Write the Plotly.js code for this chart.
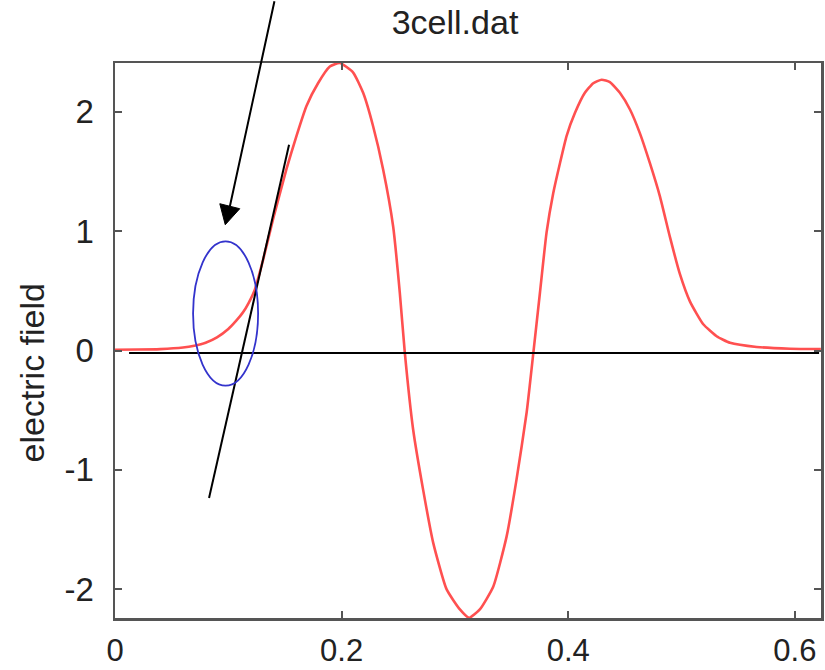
<!DOCTYPE html>
<html>
<head>
<meta charset="utf-8">
<script src="https://cdn.plot.ly/plotly-3.0.1.min.js"></script>
<style>html,body{margin:0;padding:0;background:#fff;}#chart{width:825px;height:670px;}</style>
</head>
<body>
<div id="chart"></div>
<script>
// Electric field profile along the 3-cell structure
const positions = [0, 0.02, 0.04, 0.06, 0.07, 0.08, 0.09, 0.1, 0.107, 0.113, 0.118, 0.1234, 0.1307, 0.1395, 0.1513, 0.1602, 0.169, 0.1792, 0.1896, 0.1984, 0.2102, 0.219, 0.2278, 0.2366, 0.2455, 0.2514, 0.2558, 0.2631, 0.272, 0.2808, 0.2926, 0.3044, 0.3126, 0.322, 0.3338, 0.3456, 0.3544, 0.3633, 0.3691, 0.375, 0.3809, 0.3868, 0.3927, 0.3986, 0.4059, 0.4147, 0.4221, 0.4295, 0.4368, 0.4456, 0.4545, 0.4633, 0.4721, 0.481, 0.4898, 0.4986, 0.5075, 0.5192, 0.531, 0.5428, 0.5663, 0.5958, 0.623];
const field = [0.007, 0.008, 0.012, 0.025, 0.04, 0.065, 0.11, 0.18, 0.25, 0.32, 0.40, 0.51, 0.76, 1.10, 1.52, 1.80, 2.05, 2.24, 2.38, 2.41, 2.33, 2.16, 1.88, 1.52, 1.04, 0.48, -0.02, -0.66, -1.17, -1.61, -2.00, -2.17, -2.24, -2.17, -1.98, -1.56, -1.08, -0.52, -0.03, 0.48, 0.99, 1.32, 1.57, 1.80, 1.99, 2.16, 2.24, 2.27, 2.25, 2.16, 2.02, 1.82, 1.57, 1.29, 0.95, 0.64, 0.41, 0.22, 0.12, 0.065, 0.03, 0.015, 0.013];

const xTicks = [0, 0.2, 0.4, 0.6];
const xTickLabels = ['0', '0.2', '0.4', '0.6'];
const yTicks = [-2, -1, 0, 1, 2];
const yTickLabels = ['-2', '-1', '0', '1', '2'];

// Hand-drawn overlay marks (data coordinates)
const baselineX = [0.0124, 0.6214];
const baselineY = [-0.021, -0.021];
const slantX = [0.0830, 0.1536];
const slantY = [-1.236, 1.725];
const ellipseX = [0.0689, 0.1263];
const ellipseY = [-0.295, 0.9145];
const arrowX = [0.141, 0.1013];   // tail, end of shaft
const arrowY = [2.94, 1.205];
const headX = [0.0973, 0.0925, 0.1101];
const headY = [1.0545, 1.2305, 1.1886];

const FONT = 'Liberation Sans, Arial, Helvetica, sans-serif';
const axisColor = '#555555';
const textColor = '#222222';

const trace = {
  x: positions, y: field, type: 'scatter', mode: 'lines',
  line: {color: 'rgb(255,80,80)', width: 2.6, shape: 'spline', smoothing: 0.5},
  hoverinfo: 'skip', showlegend: false
};

const headPath = 'M' + headX[0] + ',' + headY[0] + ' L' + headX[1] + ',' + headY[1] + ' L' + headX[2] + ',' + headY[2] + ' Z';

const layout = {
  width: 825, height: 670,
  margin: {l: 115, r: 4, t: 63, b: 52},
  paper_bgcolor: '#ffffff', plot_bgcolor: '#ffffff',
  font: {family: FONT, color: textColor, size: 32},
  title: {text: '3cell.dat', x: 0.4816, xref: 'paper', xanchor: 'center', y: 0.967, yanchor: 'middle', font: {family: FONT, size: 34, color: textColor}},
  xaxis: {
    range: [0, 0.6231], tickvals: xTicks, ticktext: xTickLabels,
    showline: true, mirror: 'ticks', linecolor: axisColor, linewidth: 2.5,
    ticks: 'inside', ticklen: 7, tickwidth: 2, tickcolor: axisColor,
    showgrid: false, zeroline: false, tickfont: {size: 31, color: textColor},
    ticklabelstandoff: 3
  },
  yaxis: {
    range: [-2.242, 2.41], tickvals: yTicks, ticktext: yTickLabels,
    showline: true, mirror: 'ticks', linecolor: axisColor, linewidth: 2.5,
    ticks: 'inside', ticklen: 7, tickwidth: 2, tickcolor: axisColor,
    showgrid: false, zeroline: false, tickfont: {size: 33, color: textColor},
    ticklabelstandoff: 12
  },
  annotations: [
    {
      text: 'electric field', xref: 'paper', yref: 'paper', x: -0.117, y: 0.443,
      textangle: -90, showarrow: false, xanchor: 'center', yanchor: 'middle',
      font: {family: FONT, size: 34, color: textColor}
    },
    {
      text: '', xref: 'x', yref: 'y', x: arrowX[1], y: arrowY[1],
      axref: 'x', ayref: 'y', ax: arrowX[0], ay: arrowY[0],
      showarrow: true, arrowhead: 0, arrowwidth: 2, arrowcolor: '#000000',
      standoff: 0, startstandoff: 0
    }
  ],
  shapes: [
    {type: 'line', xref: 'x', yref: 'y', x0: baselineX[0], x1: baselineX[1], y0: baselineY[0], y1: baselineY[1], line: {color: '#000000', width: 2}},
    {type: 'line', xref: 'x', yref: 'y', x0: slantX[0], x1: slantX[1], y0: slantY[0], y1: slantY[1], line: {color: '#000000', width: 2}},
    {type: 'circle', xref: 'x', yref: 'y', x0: ellipseX[0], x1: ellipseX[1], y0: ellipseY[0], y1: ellipseY[1], line: {color: '#3333cc', width: 1.8}},
    {type: 'path', xref: 'x', yref: 'y', path: headPath, fillcolor: '#000000', line: {color: '#000000', width: 1}}
  ]
};

Plotly.newPlot('chart', [trace], layout, {displayModeBar: false, staticPlot: true});
</script>
</body>
</html>
